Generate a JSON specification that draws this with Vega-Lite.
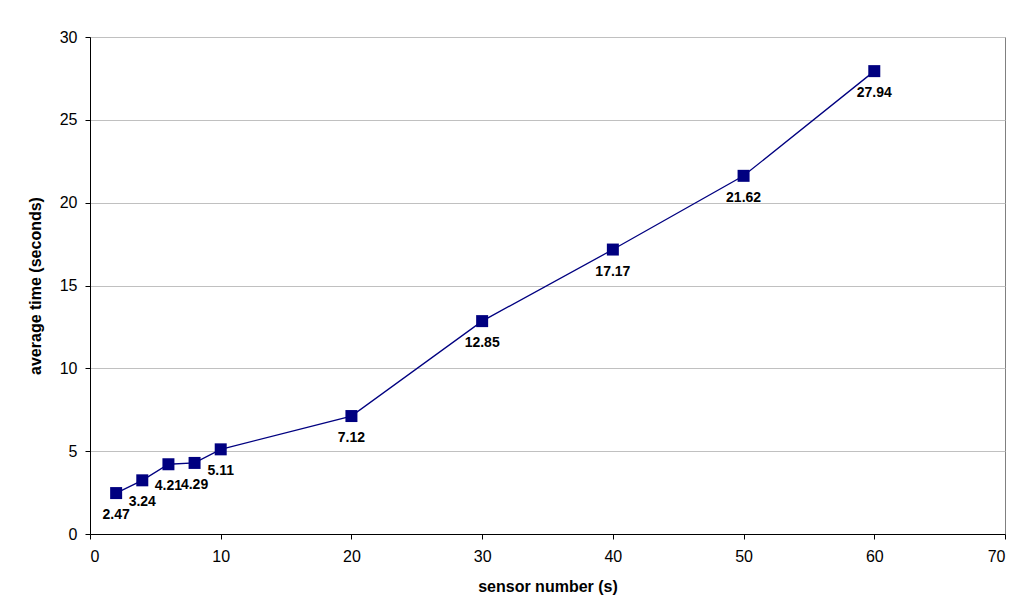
{
  "$schema": "https://vega.github.io/schema/vega-lite/v6.json",
  "autosize": {"type": "none"},
  "width": 915,
  "height": 497,
  "padding": {"left": 90, "top": 37, "right": 12, "bottom": 81},
  "background": "white",
  "config": {
    "font": "Liberation Sans",
    "view": {"stroke": "#808080", "strokeWidth": 1},
    "axis": {
      "labelFont": "Liberation Sans",
      "titleFont": "Liberation Sans",
      "labelFontSize": 16,
      "titleFontSize": 16,
      "titleFontWeight": "bold",
      "labelColor": "black",
      "titleColor": "black",
      "domainColor": "black",
      "tickColor": "black",
      "tickSize": 5,
      "gridColor": "#c0c0c0",
      "gridWidth": 1
    }
  },
  "data": {
    "values": [
      {"sensors": 2, "time": 2.47},
      {"sensors": 4, "time": 3.24},
      {"sensors": 6, "time": 4.21},
      {"sensors": 8, "time": 4.29},
      {"sensors": 10, "time": 5.11},
      {"sensors": 20, "time": 7.12},
      {"sensors": 30, "time": 12.85},
      {"sensors": 40, "time": 17.17},
      {"sensors": 50, "time": 21.62},
      {"sensors": 60, "time": 27.94}
    ]
  },
  "encoding": {
    "x": {
      "field": "sensors",
      "type": "quantitative",
      "scale": {"domain": [0, 70], "nice": false},
      "axis": {"values": [0, 10, 20, 30, 40, 50, 60, 70], "grid": false, "title": "sensor number (s)", "titlePadding": 14, "labelPadding": 9}
    },
    "y": {
      "field": "time",
      "type": "quantitative",
      "scale": {"domain": [0, 30], "nice": false},
      "axis": {"values": [0, 5, 10, 15, 20, 25, 30], "grid": true, "title": "average time (seconds)", "titlePadding": 16, "labelPadding": 8}
    }
  },
  "layer": [
    {"mark": {"type": "line", "color": "#000080", "strokeWidth": 1.3}},
    {"mark": {"type": "square", "color": "#000080", "size": 144, "opacity": 1, "filled": true}},
    {
      "mark": {"type": "text", "dy": 22, "fontSize": 14, "fontWeight": "bold", "color": "black", "font": "Liberation Sans"},
      "encoding": {"text": {"field": "time", "type": "quantitative", "format": ".2f"}}
    }
  ]
}
